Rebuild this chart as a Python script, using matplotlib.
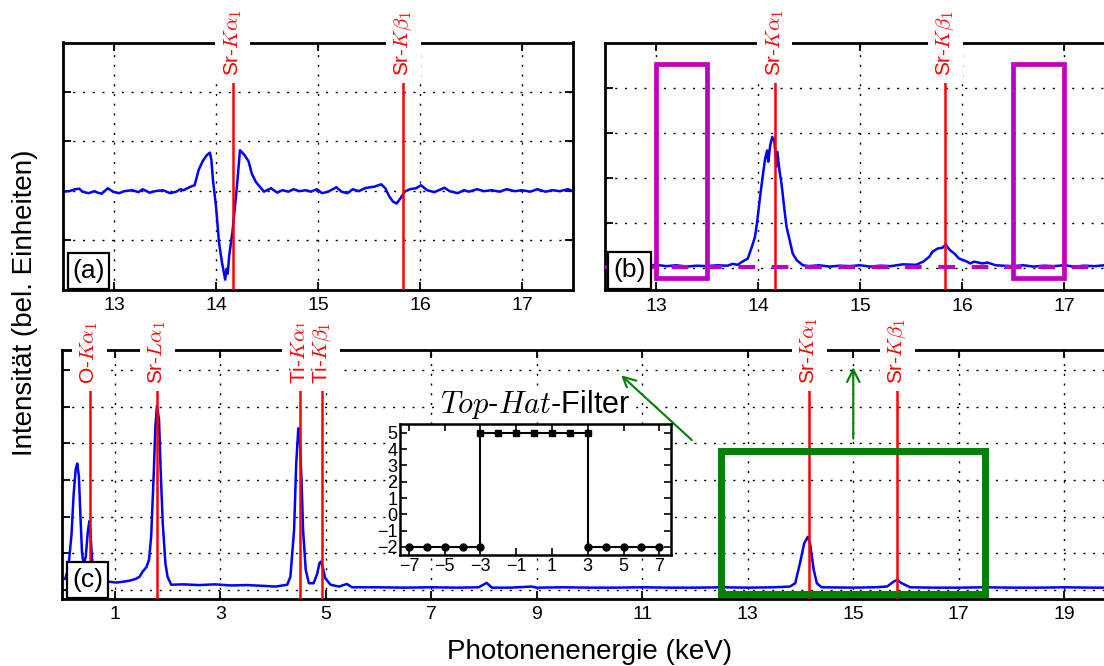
import matplotlib
matplotlib.use("Agg")
import matplotlib.pyplot as plt
from matplotlib.patches import Rectangle

plt.rcParams["font.family"] = ["Liberation Sans", "DejaVu Sans"]
plt.rcParams["mathtext.fontset"] = "cm"

# emission lines (keV) and their labels
sr_lines = [14.165, 15.835]
sr_labels = [r"Sr-$K\alpha_1$", r"Sr-$K\beta_1$"]
c_lines = [0.525, 1.806, 4.511, 4.932, 14.165, 15.835]
c_labels = [r"O-$K\alpha_1$", r"Sr-$L\alpha_1$", r"Ti-$K\alpha_1$",
            r"Ti-$K\beta_1$", r"Sr-$K\alpha_1$", r"Sr-$K\beta_1$"]

# (a) filtered spectrum (derivative-like)
a_x = [12.5, 12.56, 12.62, 12.66, 12.69, 12.75, 12.81, 12.84, 12.88, 12.94,
       12.99, 13.05, 13.1, 13.18, 13.24, 13.28, 13.35, 13.4, 13.48, 13.55,
       13.61, 13.65, 13.68, 13.72, 13.76, 13.79, 13.83, 13.87, 13.91, 13.94,
       13.955, 13.97, 14.0, 14.03, 14.06, 14.09, 14.105, 14.115, 14.13, 14.16,
       14.205, 14.235, 14.28, 14.32, 14.35, 14.39, 14.43, 14.47, 14.5, 14.54,
       14.6, 14.65, 14.71, 14.76, 14.82, 14.88, 14.93, 14.99, 15.04, 15.1,
       15.18, 15.23, 15.29, 15.34, 15.4, 15.46, 15.51, 15.55, 15.62, 15.66,
       15.7, 15.735, 15.77, 15.81, 15.85, 15.9, 15.96, 16.01, 16.07, 16.14,
       16.24, 16.29, 16.37, 16.43, 16.48, 16.56, 16.63, 16.7, 16.78, 16.85,
       16.93, 17.0, 17.08, 17.15, 17.23, 17.3, 17.37, 17.45, 17.5]
a_y = [1.98, 1.99, 2.03, 2.04, 1.98, 1.95, 1.99, 1.96, 1.94, 2.05,
       1.98, 1.95, 1.99, 2.01, 1.97, 2.03, 1.96, 1.99, 2.01, 1.95,
       1.98, 2.03, 2.01, 2.05, 2.09, 2.11, 2.42, 2.6, 2.72, 2.77,
       2.62, 2.22, 1.68, 0.94, 0.53, 0.2, 0.42, 0.32, 0.7, 1.14,
       2.08, 2.82, 2.72, 2.59, 2.35, 2.18, 2.08, 1.98, 2.01, 2.05,
       1.96, 2.01, 1.98, 2.03, 1.99, 2.01, 1.98, 2.03, 1.95, 1.98,
       2.07, 1.98, 1.95, 2.03, 1.99, 2.05, 2.07, 2.08, 2.13, 2.05,
       1.88, 1.78, 1.74, 1.85, 1.98, 2.03, 2.05, 2.11, 2.01, 1.97,
       2.06, 1.99, 1.95, 2.01, 1.98, 2.03, 1.99, 2.01, 1.98, 2.03,
       1.99, 2.01, 1.98, 2.03, 1.98, 2.01, 1.99, 2.03, 1.99]

# (b) background-corrected spectrum
b_x = [12.5, 12.6, 12.7, 12.8, 12.9, 13.0, 13.1, 13.2, 13.3, 13.4,
       13.5, 13.6, 13.7, 13.75, 13.8, 13.84, 13.87, 13.9, 13.94, 13.97,
       13.99, 14.02, 14.05, 14.07, 14.09, 14.1, 14.12, 14.14, 14.16, 14.18,
       14.19, 14.21, 14.23, 14.26, 14.28, 14.31, 14.34, 14.38, 14.44, 14.5,
       14.6, 14.7, 14.8, 14.9, 15.0, 15.1, 15.2, 15.3, 15.42, 15.55,
       15.62, 15.68, 15.71, 15.76, 15.81, 15.84, 15.88, 15.93, 15.97, 16.04,
       16.08, 16.12, 16.2, 16.25, 16.33, 16.4, 16.5, 16.6, 16.7, 16.8,
       16.9, 17.0, 17.1, 17.2, 17.3, 17.4, 17.5]
b_y = [0.03, 0.05, 0.02, 0.04, 0.03, 0.06, 0.03, 0.05, 0.02, 0.04,
       0.03, 0.05, 0.04, 0.08, 0.06, 0.12, 0.16, 0.2, 0.46, 0.68,
       0.98, 1.57, 2.09, 2.42, 2.6, 2.35, 2.72, 2.9, 2.83, 2.24,
       2.57, 2.16, 1.87, 1.27, 0.9, 0.61, 0.31, 0.16, 0.05, 0.03,
       0.05, 0.02, 0.04, 0.03, 0.05, 0.02, 0.04, 0.03, 0.07, 0.06,
       0.13, 0.24, 0.35, 0.42, 0.44, 0.51, 0.39, 0.3, 0.2, 0.14,
       0.09, 0.13, 0.09, 0.11, 0.05, 0.04, 0.03, 0.05, 0.02, 0.04,
       0.03, 0.05, 0.02, 0.04, 0.03, 0.05, 0.03]
b_background = 0.02
b_windows = [13.0, 16.5]
b_window_width = 0.5
b_window_y = (-0.24, 4.53)

# (c) full spectrum
c_x = [0.06, 0.12, 0.18, 0.22, 0.26, 0.29, 0.32, 0.35, 0.38, 0.41,
       0.45, 0.49, 0.52, 0.55, 0.58, 0.62, 0.7, 0.8, 0.9, 1.03,
       1.15, 1.28, 1.4, 1.47, 1.53, 1.6, 1.65, 1.69, 1.74, 1.77,
       1.8, 1.84, 1.87, 1.91, 1.96, 2.0, 2.07, 2.3, 2.6, 2.9,
       3.2, 3.5, 3.8, 4.05, 4.27, 4.33, 4.4, 4.44, 4.48, 4.51,
       4.54, 4.57, 4.62, 4.68, 4.77, 4.84, 4.88, 4.91, 4.94, 4.99,
       5.09, 5.25, 5.4, 5.5, 6.0, 6.5, 7.0, 7.5, 7.9, 8.05,
       8.15, 8.5, 8.9, 9.0, 9.5, 10.0, 10.5, 11.0, 11.5, 12.0,
       12.5, 13.0, 13.5, 13.8, 13.9, 13.99, 14.07, 14.14, 14.18, 14.25,
       14.31, 14.4, 15.0, 15.4, 15.64, 15.77, 15.83, 15.92, 16.08, 16.5,
       17.0, 17.5, 18.0, 18.5, 19.0, 19.5, 20.0]
c_y = [0.3, 0.6, 1.5, 2.6, 3.3, 3.45, 3.1, 2.0, 1.0, 0.7,
       0.9, 1.6, 1.88, 1.3, 0.6, 0.35, 0.25, 0.24, 0.22, 0.2,
       0.22, 0.25, 0.3, 0.36, 0.5, 0.62, 0.82, 1.45, 3.2, 4.45,
       5.02, 4.64, 3.27, 1.82, 0.73, 0.36, 0.14, 0.15, 0.13, 0.15,
       0.12, 0.13, 0.11, 0.09, 0.14, 0.36, 1.64, 3.45, 4.41, 4.09,
       3.0, 1.64, 0.55, 0.18, 0.18, 0.45, 0.73, 0.77, 0.64, 0.32,
       0.14, 0.09, 0.16, 0.07, 0.07, 0.06, 0.07, 0.06, 0.07, 0.19,
       0.06, 0.06, 0.09, 0.06, 0.07, 0.06, 0.06, 0.07, 0.06, 0.06,
       0.07, 0.06, 0.07, 0.09, 0.18, 0.73, 1.27, 1.45, 1.27, 0.55,
       0.18, 0.07, 0.06, 0.07, 0.09, 0.23, 0.27, 0.18, 0.07, 0.06,
       0.06, 0.07, 0.06, 0.06, 0.07, 0.06, 0.06]
c_window = (12.5, 17.5)
c_window_y = (-0.12, 3.79)

# inset: top-hat filter kernel
filt_x = [-7, -6, -5, -4, -3, -3, -2, -1, 0, 1, 2, 3, 3, 4, 5, 6, 7]
filt_y = [-2, -2, -2, -2, -2, 5, 5, 5, 5, 5, 5, 5, -2, -2, -2, -2, -2]
circ_x = [-7, -6, -5, -4, -3, 3, 4, 5, 6, 7]
circ_y = [-2, -2, -2, -2, -2, -2, -2, -2, -2, -2]
sq_x = [-3, -2, -1, 0, 1, 2, 3]
sq_y = [5, 5, 5, 5, 5, 5, 5]

blue = (0, 0, 1)
red = (1, 0, 0)
green = (0, 0.5, 0)
magenta = (0.75, 0, 0.75)

W, H = 1104, 666
fig = plt.figure(figsize=(W / 100, H / 100), dpi=100)


def px_axes(left, top, right, bottom):
    return fig.add_axes([left / W, 1 - bottom / H, (right - left) / W, (bottom - top) / H])


def matlab_style(ax, pad):
    ax.grid(True, color="k", linestyle=(0, (1.5, 5.5)), linewidth=1.0)
    ax.set_axisbelow(True)
    ax.tick_params(direction="in", top=True, right=True, length=6, width=1.3,
                   labelsize=14, pad=pad, labelleft=False)
    for s in ax.spines.values():
        s.set_linewidth(2)


def line_marks(ax, xs, labels, ybottom, ytop):
    ax.vlines(xs, ybottom, ytop, color=red, lw=1.8, zorder=3)
    for x, lab in zip(xs, labels):
        ax.annotate(lab, xy=(x, ytop), xytext=(0, 3), textcoords="offset points",
                    rotation=90, ha="center", va="bottom", color=red, fontsize=15,
                    bbox=dict(fc="white", ec="none", pad=5), zorder=5)


def panel_box(ax, x0, y0, w, h, label):
    ax.add_patch(Rectangle((x0, y0), w, h, transform=ax.transAxes, fc="white",
                           ec="k", lw=1.6, zorder=6, clip_on=False))
    ax.text(x0 + w / 2, y0 + h / 2, label, transform=ax.transAxes, ha="center",
            va="center", fontsize=19, zorder=7)


# (a)
ax_a = px_axes(63, 42.5, 573, 289.5)
ax_a.plot(a_x, a_y, color=blue, lw=1.8, zorder=2)
ax_a.set_xlim(12.5, 17.5)
ax_a.set_ylim(0, 5)
ax_a.set_xticks([13, 14, 15, 16, 17])
ax_a.set_yticks([1, 2, 3, 4])
matlab_style(ax_a, 5.5)
line_marks(ax_a, sr_lines, sr_labels, 0, 4.24)
panel_box(ax_a, 0.009, 0.004, 0.082, 0.144, "(a)")

# (b)
ax_b = px_axes(605, 42.5, 1115, 290)
ax_b.plot(b_x, b_y, color=blue, lw=1.8, zorder=2)
ax_b.set_xlim(12.5, 17.5)
ax_b.set_ylim(-0.5, 5)
ax_b.set_xticks([13, 14, 15, 16, 17])
ax_b.set_yticks([0, 1, 2, 3, 4])
matlab_style(ax_b, 5.5)
line_marks(ax_b, sr_lines, sr_labels, -0.5, 4.17)
ax_b.axhline(b_background, color=magenta, lw=3, dashes=(4, 4), zorder=4)
for x0 in b_windows:
    ax_b.add_patch(Rectangle((x0, b_window_y[0]), b_window_width,
                             b_window_y[1] - b_window_y[0], fill=False,
                             ec=magenta, lw=3.4, zorder=4))
panel_box(ax_b, 0.006, 0.004, 0.084, 0.15, "(b)")

# (c)
ax_c = px_axes(62, 350, 1117, 599)
ax_c.plot(c_x, c_y, color=blue, lw=1.8, zorder=2)
ax_c.set_xlim(0, 20)
ax_c.set_ylim(-0.25, 6.55)
ax_c.set_xticks(list(range(1, 20, 2)))
ax_c.set_yticks([0, 1, 2, 3, 4, 5, 6])
matlab_style(ax_c, 5)
line_marks(ax_c, c_lines, c_labels, -0.25, 5.5)
ax_c.add_patch(Rectangle((c_window[0], c_window_y[0]), c_window[1] - c_window[0],
                         c_window_y[1] - c_window_y[0], fill=False, ec=green,
                         lw=5, zorder=4))
arrow = dict(arrowstyle="->,head_length=0.6,head_width=0.3", color=green, lw=1.5,
             mutation_scale=15, shrinkA=0, shrinkB=0)
ax_c.annotate("", xy=(15, 6.08), xytext=(15, 4.13), arrowprops=arrow)
ax_c.annotate("", xy=(10.6, 5.86), xytext=(11.94, 4.09), arrowprops=arrow)
panel_box(ax_c, 0.005, 0.003, 0.039, 0.147, "(c)")

# inset
ax_in = px_axes(400, 424, 671, 555)
ax_in.plot(filt_x, filt_y, color="k", lw=1.5)
ax_in.plot(circ_x, circ_y, "o", color="k", ms=5)
ax_in.plot(sq_x, sq_y, "s", color="k", ms=5)
ax_in.set_xlim(-7.5, 7.65)
ax_in.set_ylim(-2.5, 5.55)
ax_in.set_xticks([-7, -5, -3, -1, 1, 3, 5, 7])
ax_in.set_yticks([-2, -1, 0, 1, 2, 3, 4, 5])
ax_in.tick_params(direction="in", top=True, right=True, length=5, width=1.2,
                  labelsize=13, pad=2)
for s in ax_in.spines.values():
    s.set_linewidth(1.8)
ax_in.set_title(r"$Top$-$Hat$-Filter", fontsize=22, pad=8,
                bbox=dict(fc="white", ec="none", pad=0))

fig.text(25 / W, 1 - 303 / H, "Intensität (bel. Einheiten)", rotation=90,
         ha="center", va="center", fontsize=20)
fig.text(590 / W, 1 - 652 / H, "Photonenenergie (keV)", ha="center",
         va="center", fontsize=20)

fig.savefig("out.png", dpi=100)
